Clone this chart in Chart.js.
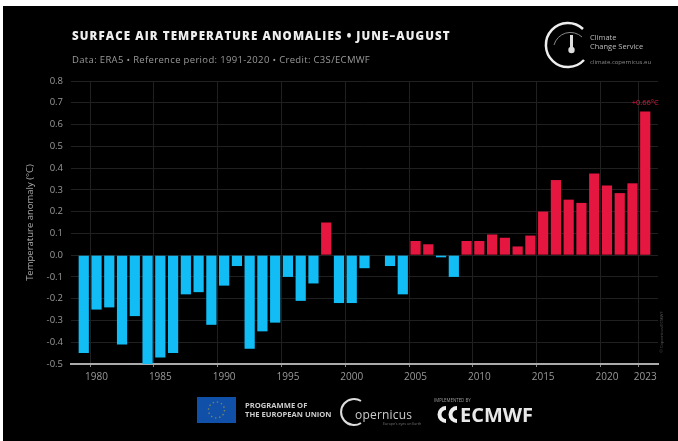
<!DOCTYPE html>
<html>
<head>
<meta charset="utf-8">
<script src="https://cdn.jsdelivr.net/npm/chart.js@4"></script>
<style>
html, body { margin: 0; background: #fff; }
#wrap { position: relative; width: 678px; height: 441px; overflow: hidden; }
#bg { position: absolute; left: 3px; top: 6px; right: 0; bottom: 0; background: #000; }
#chart { position: absolute; left: 0; top: 0; }
.t { position: absolute; white-space: nowrap; font-family: "Open Sans", "Noto Sans", sans-serif; }
#title { left: 72px; top: 28px; font-size: 11.5px; font-weight: 800; color: #eee; letter-spacing: 1.1px; }
#sub { left: 72px; top: 53px; font-size: 9.5px; color: #999; letter-spacing: 0.33px; }
#credit { left: 661px; top: 332px; font-size: 4px; color: #555; transform: translate(-50%,-50%) rotate(-90deg); }
#logos { position: absolute; left: 0; top: 0; }
</style>
</head>
<body>
<div id="wrap">
    <div id="bg"></div>
    <canvas id="chart" width="678" height="441"></canvas>
    <div class="t" id="title">SURFACE AIR TEMPERATURE ANOMALIES • JUNE–AUGUST</div>
    <div class="t" id="sub">Data: ERA5 • Reference period: 1991-2020 • Credit: C3S/ECMWF</div>
    <div class="t" id="credit">© Copernicus/ECMWF</div>
    <svg id="logos" width="678" height="441" font-family="Open Sans, sans-serif">
        <!-- climate change service -->
        <path d="M583 29 A22 22 0 1 0 584 60" fill="none" stroke="#eee" stroke-width="2.5"/>
        <path d="M554 45 A17 17 0 0 1 582 37" fill="none" stroke="#888" stroke-width="1"/>
        <rect x="570" y="35" width="3" height="13" fill="#ddd"/>
        <circle cx="571.5" cy="50" r="3.2" fill="#ddd"/>
        <text x="590" y="40" font-size="7.5" fill="#bbb">Climate</text>
        <text x="590" y="49" font-size="7.5" fill="#bbb">Change Service</text>
        <text x="590" y="64" font-size="6" fill="#888">climate.copernicus.eu</text>
        <!-- EU -->
        <rect x="197" y="397" width="39" height="26" fill="#1050a8"/>
        <circle cx="216.5" cy="410" r="8" fill="none" stroke="#d0b030" stroke-width="1.4" stroke-dasharray="1.4 2.8" opacity="0.55"/>
        <text x="245" y="408" font-size="7.6" font-weight="700" fill="#ccc">PROGRAMME OF</text>
        <text x="245" y="417" font-size="7.6" font-weight="700" fill="#ccc">THE EUROPEAN UNION</text>
        <!-- copernicus -->
        <path d="M361 401 A13 13 0 1 0 361 423" fill="none" stroke="#ddd" stroke-width="2"/>
        <text x="355" y="419" font-size="12" fill="#ccc" letter-spacing="0.2">opernicus</text>
        <text x="383" y="425" font-size="3.6" fill="#777">Europe's eyes on Earth</text>
        <!-- ecmwf -->
        <text x="434" y="402" font-size="4.4" fill="#999">IMPLEMENTED BY</text>
        <path d="M446 408 A6.5 6.5 0 1 0 446 421 M457 408 A6.5 6.5 0 1 0 457 421" fill="none" stroke="#eee" stroke-width="4"/>
        <text x="460" y="422" font-size="20" font-weight="700" fill="#e8e8e8" textLength="73" lengthAdjust="spacingAndGlyphs">ECMWF</text>
    </svg>
</div>
<script>
const years = [1978,1979,1980,1981,1982,1983,1984,1985,1986,1987,1988,1989,1990,1991,1992,1993,1994,1995,1996,1997,1998,1999,2000,2001,2002,2003,2004,2005,2006,2007,2008,2009,2010,2011,2012,2013,2014,2015,2016,2017,2018,2019,2020,2021,2022,2023,2024];
const anomalies = [null,-0.45,-0.25,-0.24,-0.41,-0.28,-0.50,-0.47,-0.45,-0.18,-0.17,-0.32,-0.14,-0.05,-0.43,-0.35,-0.31,-0.10,-0.21,-0.13,0.15,-0.22,-0.22,-0.06,0,-0.05,-0.18,0.065,0.05,-0.01,-0.10,0.065,0.065,0.095,0.08,0.04,0.09,0.20,0.345,0.255,0.24,0.375,0.32,0.285,0.33,0.66,null];
const tickYears = [1980,1985,1990,1995,2000,2005,2010,2015,2020,2023];
const lastLabel = "+0.66°C";

const blue = "#12bdf6";
const red = "#e5163f";

// label over the 2023 bar
const barLabel = {
    id: "barLabel",
    afterDatasetsDraw(chart) {
        const c = chart.ctx;
        const i = years.indexOf(2023);
        c.save();
        c.fillStyle = red;
        c.font = "7.5px 'Open Sans'";
        c.textAlign = "center";
        c.fillText(lastLabel, chart.scales.x.getPixelForValue(i), chart.scales.y.getPixelForValue(anomalies[i]) - 6);
        c.restore();
    }
};

new Chart(document.getElementById("chart"), {
    type: "bar",
    data: {
        labels: years,
        datasets: [{
            data: anomalies,
            backgroundColor: anomalies.map(v => v >= 0 ? red : blue),
            barPercentage: 0.8,
            categoryPercentage: 1
        }]
    },
    options: {
        responsive: false,
        animation: false,
        layout: { padding: { left: 0, right: 20, top: 81, bottom: 0 } },
        plugins: { legend: { display: false }, tooltip: { enabled: false } },
        scales: {
            x: {
                offset: false,
                afterFit: s => { s.height = 77; },
                border: { color: "#aaa", width: 2 },
                grid: {
                    tickLength: 3,
                    color: ctx => tickYears.includes(years[ctx.index]) ? "#202020" : "rgba(0,0,0,0)",
                    tickColor: ctx => tickYears.includes(years[ctx.index]) ? "#888" : "rgba(0,0,0,0)"
                },
                ticks: {
                    autoSkip: false,
                    maxRotation: 0,
                    padding: 4,
                    color: "#999",
                    font: { family: "Open Sans", size: 10 },
                    callback: function (v, i) { return tickYears.includes(years[i]) ? String(years[i]) : ""; }
                }
            },
            y: {
                min: -0.5,
                max: 0.8,
                afterFit: s => { s.width = 71; },
                border: { display: false },
                grid: { color: "#202020", drawTicks: false },
                title: {
                    display: true,
                    text: "Temperature anomaly (°C)",
                    color: "#aaa",
                    font: { family: "Open Sans", size: 9.5 },
                    padding: { top: 25, bottom: 0 }
                },
                ticks: {
                    stepSize: 0.1,
                    padding: 8,
                    color: "#999",
                    font: { family: "Open Sans", size: 9.5 },
                    callback: v => v.toFixed(1)
                }
            }
        }
    },
    plugins: [barLabel]
});
</script>
</body>
</html>
